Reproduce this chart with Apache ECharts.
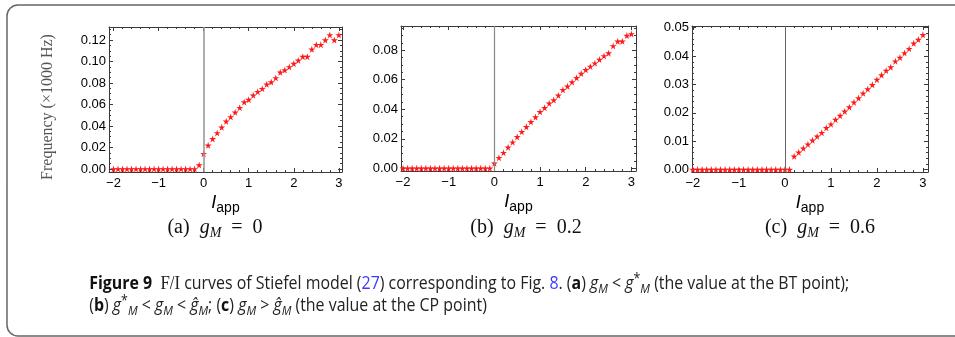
<!DOCTYPE html>
<html><head><meta charset="utf-8">
<script src="https://cdn.jsdelivr.net/npm/echarts@6/dist/echarts.min.js"></script>
<style>html,body{margin:0;padding:0;background:#fff}#c{width:955px;height:337px}</style>
</head><body><div id="c"></div>
<script>
const xValues = [-2.0,-1.9,-1.8,-1.7,-1.6,-1.5,-1.4,-1.3,-1.2,-1.1,-1.0,-0.9,-0.8,-0.7,-0.6,-0.5,-0.4,-0.3,-0.2,-0.1,
  0.0,0.1,0.2,0.3,0.4,0.5,0.6,0.7,0.8,0.9,1.0,1.1,1.2,1.3,1.4,1.5,1.6,1.7,1.8,1.9,2.0,2.1,2.2,2.3,2.4,2.5,2.6,2.7,2.8,2.9,3.0];
const freqA = [0,0,0,0,0,0,0,0,0,0,0,0,0,0,0,0,0,0,0,0.0037,
  0.0142,0.022,0.028,0.0335,0.0388,0.0443,0.0484,0.0527,0.057,0.0623,0.0645,0.0685,0.0719,0.0747,0.0788,0.0809,0.0847,0.090,0.092,0.0949,
  0.098,0.101,0.1045,0.1045,0.1113,0.1156,0.1156,0.120,0.1247,0.120,0.1247];
const freqB = [0,0,0,0,0,0,0,0,0,0,0,0,0,0,0,0,0,0,0,0,
  0.0034,0.0072,0.0106,0.0142,0.0177,0.0213,0.0248,0.0281,0.0315,0.0347,0.0383,0.041,0.044,0.0462,0.0494,0.0532,0.0556,0.0584,0.0613,0.0642,
  0.0667,0.069,0.0712,0.0737,0.0761,0.078,0.0829,0.086,0.086,0.0899,0.091];
const freqC = [0,0,0,0,0,0,0,0,0,0,0,0,0,0,0,0,0,0,0,0,
  0,0,0.0047,0.0061,0.0075,0.0089,0.0103,0.0117,0.013,0.0147,0.016,0.0176,0.019,0.0205,0.022,0.0237,0.0252,0.0269,0.0284,0.0299,
  0.0317,0.0333,0.0349,0.0361,0.0382,0.0395,0.0411,0.0426,0.0445,0.0458,0.0475];

const xMajorTicks = [-2,-1,0,1,2,3];
const xMinorTicks = [-1.8,-1.6,-1.4,-1.2,-0.8,-0.6,-0.4,-0.2,0.2,0.4,0.6,0.8,1.2,1.4,1.6,1.8,2.2,2.4,2.6,2.8];
const yMajorA = [0,0.02,0.04,0.06,0.08,0.10,0.12];
const yMinorA = [0.005,0.01,0.015,0.025,0.03,0.035,0.045,0.05,0.055,0.065,0.07,0.075,0.085,0.09,0.095,0.105,0.11,0.115,0.125,0.13];
const yMajorB = [0,0.02,0.04,0.06,0.08];
const yMinorB = [0.005,0.01,0.015,0.025,0.03,0.035,0.045,0.05,0.055,0.065,0.07,0.075,0.085,0.09,0.095];
const yMajorC = [0,0.01,0.02,0.03,0.04,0.05];
const yMinorC = [0.002,0.004,0.006,0.008,0.012,0.014,0.016,0.018,0.022,0.024,0.026,0.028,0.032,0.034,0.036,0.038,0.042,0.044,0.046,0.048];

const panelCaptions = [['(a)','0'],['(b)','0.2'],['(c)','0.6']];
const yLabelText = 'Frequency (\u00d71000 Hz)';

const panels = [
  {grid:{left:109,top:27,width:233,height:145}, x:[-2.1,3.07], y:[-0.0028,0.1321], yMaj:yMajorA, yMin:yMinorA, data:freqA, zl:{color:'#999',width:1.6}, cap:[215,228]},
  {grid:{left:401,top:26,width:235,height:145}, x:[-2.044,3.10], y:[-0.0018,0.0964], yMaj:yMajorB, yMin:yMinorB, data:freqB, zl:{color:'#888',width:1.2}, cap:[526,228]},
  {grid:{left:692,top:26,width:236,height:146}, x:[-2.02,3.11], y:[-0.00085,0.0506], yMaj:yMajorC, yMin:yMinorC, data:freqC, zl:{color:'#666',width:1}, cap:[820,228]}
];

const frameColor = '#3a3a3a';
const starPath = 'path://M50,0 L61,35 L98,35 L68,57 L79,91 L50,70 L21,91 L32,57 L2,35 L39,35 Z';
const grids=[], xAxes=[], yAxes=[], series=[], graphics=[];

panels.forEach((p,gi)=>{
  grids.push(Object.assign({containLabel:false}, p.grid));
  const base = {type:'value', gridIndex:gi, min:p.x[0], max:p.x[1], splitLine:{show:false}};
  const xMainIdx = xAxes.length;
  xAxes.push(Object.assign({}, base, {position:'bottom',
    axisLine:{show:true, onZero:false, lineStyle:{color:frameColor,width:1}},
    axisTick:{show:true, inside:true, length:4, customValues:xMajorTicks, lineStyle:{color:frameColor}},
    axisLabel:{show:true, customValues:xMajorTicks, margin:5, fontFamily:'Liberation Sans', fontSize:13, color:'#000',
      formatter:v=> v<0 ? '\u2212'+Math.abs(v) : String(v)},
    name:'{i|I}{s|app}', nameLocation:'middle', nameGap:19,
    nameTextStyle:{rich:{i:{fontFamily:'Liberation Sans',fontStyle:'italic',fontSize:18,color:'#000',lineHeight:24,verticalAlign:'middle'},
                         s:{fontFamily:'Liberation Sans',fontSize:14,color:'#000',verticalAlign:'bottom'}}}
  }));
  xAxes.push(Object.assign({}, base, {position:'bottom', axisLine:{show:false,onZero:false},
    axisTick:{show:true, inside:true, length:2, customValues:xMinorTicks, lineStyle:{color:frameColor}}, axisLabel:{show:false}}));
  xAxes.push(Object.assign({}, base, {position:'top',
    axisLine:{show:true,onZero:false,lineStyle:{color:frameColor,width:1}},
    axisTick:{show:true, inside:true, length:4, customValues:xMajorTicks, lineStyle:{color:frameColor}}, axisLabel:{show:false}}));
  xAxes.push(Object.assign({}, base, {position:'top', axisLine:{show:false,onZero:false},
    axisTick:{show:true, inside:true, length:2, customValues:xMinorTicks, lineStyle:{color:frameColor}}, axisLabel:{show:false}}));

  const ybase = {type:'value', gridIndex:gi, min:p.y[0], max:p.y[1], splitLine:{show:false}};
  const yMainIdx = yAxes.length;
  yAxes.push(Object.assign({}, ybase, {position:'left',
    axisLine:{show:true,onZero:false,lineStyle:{color:frameColor,width:1}},
    axisTick:{show:true, inside:true, length:4, customValues:p.yMaj, lineStyle:{color:frameColor}},
    axisLabel:{show:true, customValues:p.yMaj, margin:3, fontFamily:'Liberation Sans', fontSize:13, color:'#000',
      formatter:v=>v.toFixed(2)}}));
  yAxes.push(Object.assign({}, ybase, {position:'left', axisLine:{show:false,onZero:false},
    axisTick:{show:true, inside:true, length:2, customValues:p.yMin, lineStyle:{color:frameColor}}, axisLabel:{show:false}}));
  yAxes.push(Object.assign({}, ybase, {position:'right',
    axisLine:{show:true,onZero:false,lineStyle:{color:frameColor,width:1}},
    axisTick:{show:true, inside:true, length:4, customValues:p.yMaj, lineStyle:{color:frameColor}}, axisLabel:{show:false}}));
  yAxes.push(Object.assign({}, ybase, {position:'right', axisLine:{show:false,onZero:false},
    axisTick:{show:true, inside:true, length:2, customValues:p.yMin, lineStyle:{color:frameColor}}, axisLabel:{show:false}}));

  series.push({type:'scatter', xAxisIndex:xMainIdx, yAxisIndex:yMainIdx,
    data: xValues.map((x,i)=>[x, p.data[i]]),
    symbol: starPath, symbolSize:7, itemStyle:{color:'#ff1a1a', opacity:1},
    markLine:{silent:true, symbol:['none','none'], label:{show:false},
      lineStyle:{type:'solid', color:p.zl.color, width:p.zl.width}, data:[{xAxis:0}]},
    z:3, animation:false});

  const cap = panelCaptions[gi];
  graphics.push({type:'text', x:p.cap[0], y:p.cap[1], style:{
    text:'{r|'+cap[0]+'  }{i|g}{m|M}{r|  =  '+cap[1]+'}',
    align:'center', verticalAlign:'middle',
    rich:{r:{fontFamily:'Liberation Serif',fontSize:20,fill:'#111',lineHeight:24,verticalAlign:'middle'},
          i:{fontFamily:'Liberation Serif',fontStyle:'italic',fontSize:20,fill:'#111',lineHeight:24,verticalAlign:'middle'},
          m:{fontFamily:'Liberation Serif',fontStyle:'italic',fontSize:14,fill:'#111',verticalAlign:'bottom'}}}});
});

graphics.push({type:'rect', shape:{x:7,y:5,width:1000,height:331,r:11},
  style:{fill:'none', stroke:'#666', lineWidth:1.5}, z:-1});
graphics.push({type:'text', x:48, y:107, rotation:Math.PI/2, style:{text:yLabelText, align:'center', verticalAlign:'middle',
  fontFamily:'Liberation Serif', fontSize:16, fill:'#555'}});

const capRich = {
  b:{fontFamily:'Open Sans',fontWeight:'bold',fontSize:18,fill:'#111',lineHeight:24,verticalAlign:'middle'},
  t:{fontFamily:'Open Sans',fontSize:18,fill:'#222',lineHeight:24,verticalAlign:'middle'},
  s:{fontFamily:'Liberation Serif',fontSize:19,fill:'#222',lineHeight:24,verticalAlign:'middle'},
  u:{fontFamily:'Open Sans',fontSize:18,fill:'#3a3aff',lineHeight:24,verticalAlign:'middle'},
  g:{fontFamily:'Open Sans',fontStyle:'italic',fontSize:18,fill:'#222',lineHeight:24,verticalAlign:'middle'},
  sub:{fontFamily:'Open Sans',fontStyle:'italic',fontSize:13,fill:'#222',verticalAlign:'bottom'},
  sup:{fontFamily:'Open Sans',fontSize:14,fill:'#222',verticalAlign:'top'}
};
graphics.push({type:'text', x:80, y:284, scaleX:0.885, originX:80, style:{
  text:'{b|Figure 9}{t|  }{s|F/I}{t| curves of Stiefel model (}{u|27}{t|) corresponding to Fig. }{u|8}{t|. (}{b|a}{t|) }{g|g}{sub|M}{t| < }{g|g}{sup|*}{sub|M}{t| (the value at the BT point);}',
  verticalAlign:'middle', rich:capRich}});
graphics.push({type:'text', x:80, y:306, scaleX:0.885, originX:80, style:{
  text:'{t|(}{b|b}{t|) }{g|g}{sup|*}{sub|M}{t| < }{g|g}{sub|M}{t| < }{g|\u011d}{sub|M}{t|; (}{b|c}{t|) }{g|g}{sub|M}{t| > }{g|\u011d}{sub|M}{t| (the value at the CP point)}',
  verticalAlign:'middle', rich:capRich}});

const chart = echarts.init(document.getElementById('c'), null, {renderer:'canvas'});
chart.setOption({animation:false, backgroundColor:'#fff', grid:grids, xAxis:xAxes, yAxis:yAxes, series:series, graphic:graphics});
</script></body></html>
